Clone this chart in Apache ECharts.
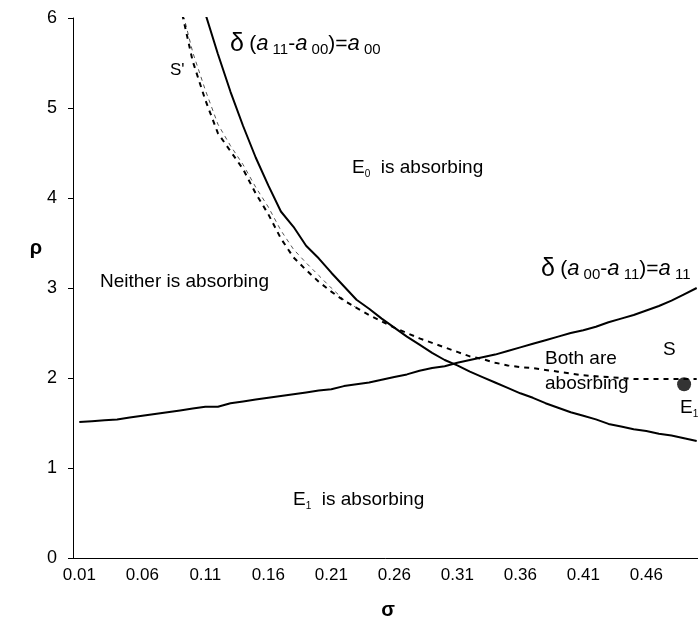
<!DOCTYPE html>
<html><head><meta charset="utf-8">
<script src="https://cdn.jsdelivr.net/npm/echarts@6/dist/echarts.min.js"></script>
<style>html,body{margin:0;padding:0;background:#fff}#c{width:698px;height:628px}</style>
</head><body><div id="c"></div>
<script>
// categories (sigma)
const sigma = ['0.01','0.02','0.03','0.04','0.05','0.06','0.07','0.08','0.09','0.10',
  '0.11','0.12','0.13','0.14','0.15','0.16','0.17','0.18','0.19','0.20',
  '0.21','0.22','0.23','0.24','0.25','0.26','0.27','0.28','0.29','0.30',
  '0.31','0.32','0.33','0.34','0.35','0.36','0.37','0.38','0.39','0.40',
  '0.41','0.42','0.43','0.44','0.45','0.46','0.47','0.48','0.49','0.50'];
// delta(a00-a11)=a11  (rising boundary)
const curveA11 = [1.51,1.52,1.53,1.54,1.56,1.58,1.60,1.62,1.64,1.66,
  1.68,1.68,1.72,1.74,1.76,1.78,1.80,1.82,1.84,1.86,
  1.875,1.91,1.93,1.95,1.98,2.01,2.04,2.08,2.11,2.13,
  2.17,2.20,2.23,2.26,2.30,2.34,2.38,2.42,2.46,2.50,
  2.53,2.57,2.62,2.66,2.70,2.75,2.80,2.86,2.93,3.00];
// delta(a11-a00)=a00  (falling boundary)
const curveA00 = [null,null,null,null,null,null,null,null,7.1,6.55,
  6.05,5.60,5.18,4.80,4.45,4.14,3.85,3.68,3.47,3.33,
  3.17,3.02,2.87,2.77,2.66,2.56,2.46,2.37,2.28,2.20,
  2.14,2.07,2.01,1.95,1.89,1.83,1.78,1.72,1.67,1.62,
  1.58,1.54,1.49,1.46,1.43,1.41,1.38,1.36,1.33,1.30];
// S (heavy dashed)
const curveS = [null,null,null,null,null,null,null,6.8,6.15,5.52,
  5.09,4.72,4.52,4.32,4.05,3.82,3.55,3.34,3.20,3.07,
  2.96,2.86,2.78,2.70,2.63,2.56,2.50,2.44,2.39,2.34,
  2.29,2.24,2.21,2.17,2.14,2.12,2.11,2.09,2.07,2.05,
  2.03,2.02,2.01,2.00,1.99,1.99,1.99,1.99,1.99,1.99];
// S' (thin dashed)
const curveS2 = [null,null,null,null,null,null,null,6.9,6.18,5.62,
  5.20,4.82,4.58,4.37,4.12,3.90,3.64,3.43,3.28,3.14,
  3.00,2.87,2.78,null,null,null,null,null,null,null,
  null,null,null,null,null,null,null,null,null,null,
  null,null,null,null,null,null,null,null,null,null];
// E1 equilibrium point
const e1Sigma = ['0.49'];
const e1Rho = [1.93];
const rhoTicks = [0,1,2,3,4,5,6];

const FF = '"Liberation Sans", Arial, sans-serif';
const chart = echarts.init(document.getElementById('c'));
const txt = (x, y, text, rich, extra) => Object.assign({
  type: 'text', x: x, y: y, z: 100,
  style: Object.assign({ text: text, fill: '#000', font: '19px ' + FF, align: 'left', verticalAlign: 'middle', rich: rich || {} }, extra || {})
});
const richE = {
  m: { fontSize: 19, fontFamily: FF, color: '#000', verticalAlign: 'top', lineHeight: 22 },
  s: { fontSize: 10, fontFamily: FF, color: '#000', verticalAlign: 'top', lineHeight: 22, padding: [11, 0, 0, 0] }
};
const richD = {
  d: { fontSize: 25, fontFamily: FF, color: '#000', verticalAlign: 'top', lineHeight: 26 },
  p: { fontSize: 21, fontFamily: FF, color: '#000', verticalAlign: 'top', lineHeight: 26, padding: [2, 0, 0, 0] },
  a: { fontSize: 22, fontFamily: FF, fontStyle: 'italic', color: '#000', verticalAlign: 'top', lineHeight: 26, padding: [1, 0, 0, 0] },
  s: { fontSize: 15, fontFamily: FF, color: '#000', verticalAlign: 'top', lineHeight: 26, padding: [10, 0, 0, 0] }
};
chart.setOption({
  animation: false,
  backgroundColor: '#fff',
  grid: { left: 73, top: 18, width: 630, height: 540, containLabel: false, outerBoundsMode: 'none' },
  xAxis: {
    type: 'category', data: sigma, boundaryGap: true,
    axisLine: { lineStyle: { color: '#000', width: 1 } },
    axisTick: { interval: 0, length: 5, lineStyle: { color: '#000' } },
    axisLabel: { interval: 4, color: '#000', fontSize: 17, fontFamily: FF, margin: 9 },
    splitLine: { show: false }
  },
  yAxis: {
    type: 'value', min: rhoTicks[0], max: rhoTicks[rhoTicks.length - 1], interval: 1,
    axisLine: { show: true, lineStyle: { color: '#000', width: 1 } },
    axisTick: { show: true, length: 5, lineStyle: { color: '#000' } },
    axisLabel: { color: '#000', fontSize: 18, fontFamily: FF, margin: 16 },
    splitLine: { show: false }
  },
  series: [
    { type: 'line', data: curveA11, symbol: 'none', clip: true, lineStyle: { color: '#000', width: 2 } },
    { type: 'line', data: curveA00, symbol: 'none', clip: true, lineStyle: { color: '#000', width: 2 } },
    { type: 'line', data: curveS2, symbol: 'none', clip: true, lineStyle: { color: '#555', width: 1, type: [4, 4] } },
    { type: 'line', data: curveS, symbol: 'none', clip: true, lineStyle: { color: '#000', width: 2, type: [5, 5] } },
    { type: 'scatter', data: e1Sigma.map((s, i) => [s, e1Rho[i]]), symbol: 'circle', symbolSize: 14, itemStyle: { color: '#000' } }
  ],
  graphic: [
    txt(230, 32, '{d|δ} {p|(}{a|a}{s| 11}{p|-}{a|a}{s| 00}{p|)=}{a|a}{s| 00}', richD, { verticalAlign: 'top' }),
    txt(541, 257, '{d|δ} {p|(}{a|a}{s| 00}{p|-}{a|a}{s| 11}{p|)=}{a|a}{s| 11}', richD, { verticalAlign: 'top' }),
    txt(170, 70, "S'", null, { font: '17px ' + FF }),
    txt(352, 158, '{m|E}{s|0}{m|  is absorbing}', richE, { verticalAlign: 'top' }),
    txt(100, 282, 'Neither is absorbing'),
    txt(545, 359, 'Both are'),
    txt(545, 384, 'abosrbing'),
    txt(663, 350, 'S'),
    txt(680, 398, '{m|E}{s|1}', richE, { verticalAlign: 'top' }),
    txt(293, 490, '{m|E}{s|1}{m|  is absorbing}', richE, { verticalAlign: 'top' }),
    txt(36, 248, 'ρ', null, { font: 'bold 20px ' + FF, align: 'center' }),
    txt(388, 610, 'σ', null, { font: 'bold 20px ' + FF, align: 'center' })
  ]
});
</script></body></html>
